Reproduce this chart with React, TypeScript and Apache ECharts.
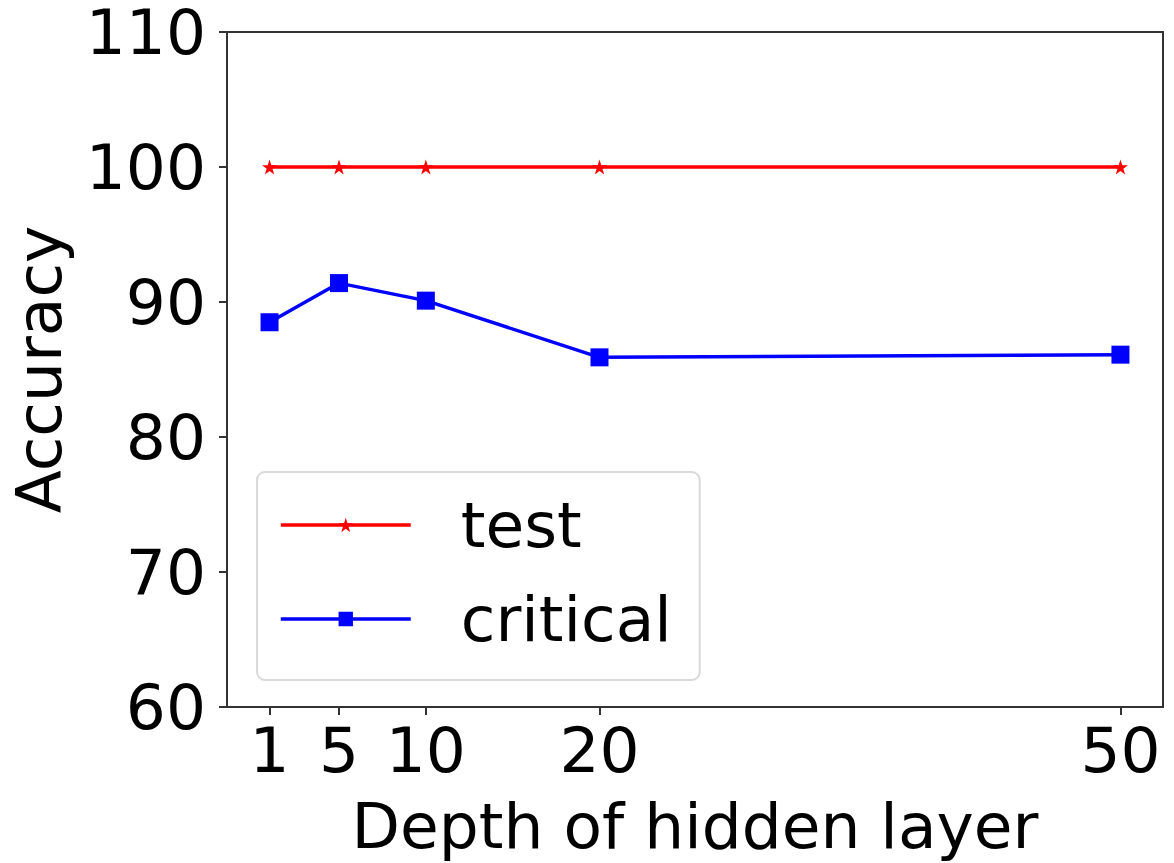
import React, { useEffect, useRef } from "react";
import * as echarts from "echarts";

const depths = [1, 5, 10, 20, 50];
const testAcc = [100, 100, 100, 100, 100];
const criticalAcc = [88.5, 91.4, 90.1, 85.9, 86.1];
const xTicks = [1, 5, 10, 20, 50];

const STAR =
  "path://M50,0 L61.8,35.4 L99,35.4 L69,57.3 L80.4,92.7 L50,70.8 L19.6,92.7 L31,57.3 L1,35.4 L38.2,35.4 Z";

export default function App() {
  const ref = useRef<HTMLDivElement>(null);
  useEffect(() => {
    if (!ref.current) return;
    const chart = echarts.init(ref.current, undefined, { renderer: "svg" });
    const font = "DejaVu Sans";
    const fs = 63;
    chart.setOption({
      animation: false,
      backgroundColor: "#ffffff",
      grid: {
        left: 224,
        right: 11,
        top: 32,
        bottom: 155,
        show: true,
        borderColor: "#333",
        borderWidth: 2,
        backgroundColor: "transparent",
      },
      legend: {
        orient: "vertical",
        left: 257,
        top: 472,
        padding: [20, 28, 28, 22],
        itemWidth: 130,
        itemHeight: 18,
        itemGap: 28,
        borderColor: "#d9d9d9",
        borderWidth: 2,
        borderRadius: 8,
        backgroundColor: "#fff",
        lineStyle: { width: 3.5 },
        textStyle: {
          fontFamily: font,
          fontSize: fs,
          lineHeight: 66,
          color: "#000",
          padding: [0, 0, 0, 45],
        },
        data: ["test", "critical"],
      },
      xAxis: {
        type: "value",
        min: -1.45,
        max: 52.45,
        name: "Depth of hidden layer",
        nameLocation: "middle",
        nameGap: 88,
        nameTextStyle: { fontFamily: font, fontSize: fs, color: "#000" },
        axisLine: { show: true, onZero: false, lineStyle: { color: "#333", width: 2 } },
        axisTick: {
          show: true,
          length: 8,
          lineStyle: { color: "#333", width: 2 },
          customValues: xTicks,
        },
        axisLabel: {
          fontFamily: font,
          fontSize: fs,
          lineHeight: 63,
          color: "#000",
          margin: 12,
          customValues: xTicks,
        },
        splitLine: { show: false },
      },
      yAxis: {
        type: "value",
        min: 60,
        max: 110,
        interval: 10,
        name: "Accuracy",
        nameLocation: "middle",
        nameGap: 156,
        nameTextStyle: { fontFamily: font, fontSize: fs, color: "#000" },
        axisLine: { show: true, onZero: false, lineStyle: { color: "#333", width: 2 } },
        axisTick: { show: true, length: 8, lineStyle: { color: "#333", width: 2 } },
        axisLabel: {
          fontFamily: font,
          fontSize: fs,
          lineHeight: 60,
          color: "#000",
          margin: 21,
        },
        splitLine: { show: false },
      },
      series: [
        {
          name: "test",
          type: "line",
          data: depths.map((d, i) => [d, testAcc[i]]),
          color: "#ff0000",
          lineStyle: { color: "#ff0000", width: 3.5 },
          symbol: STAR,
          symbolSize: 15,
          itemStyle: { color: "#ff0000" },
          showAllSymbol: true,
        },
        {
          name: "critical",
          type: "line",
          data: depths.map((d, i) => [d, criticalAcc[i]]),
          color: "#0000ff",
          lineStyle: { color: "#0000ff", width: 3.5 },
          symbol: "rect",
          symbolSize: 18,
          itemStyle: { color: "#0000ff" },
          showAllSymbol: true,
        },
      ],
    });
    return () => chart.dispose();
  }, []);
  return (
    <div
      ref={ref}
      style={{ width: 1174, height: 863, position: "absolute", left: 0, top: 0 }}
    />
  );
}
